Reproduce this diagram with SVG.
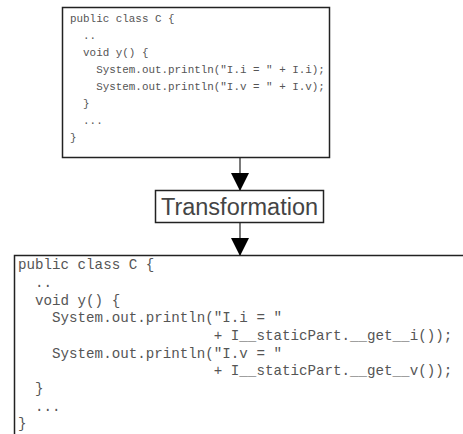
<svg xmlns="http://www.w3.org/2000/svg" width="463" height="434" viewBox="0 0 463 434">
<defs>
<style>
.box{fill:#fff;stroke:#222;stroke-width:1.5}
.code{font-family:"Liberation Mono","Courier New",monospace;font-size:10.9px;fill:#555;white-space:pre}
.code2{font-family:"Liberation Mono","Courier New",monospace;font-size:14.2px;fill:#555;white-space:pre}
.lbl{font-family:"Liberation Sans",Arial,sans-serif;font-size:23.5px;fill:#444}
.edge{stroke:#333;stroke-width:1.3;fill:none}
</style>
<marker id="ah" markerWidth="18" markerHeight="20" refX="17" refY="9" orient="auto" markerUnits="userSpaceOnUse" viewBox="0 0 18 18">
<path d="M0,0 L18,9 L0,18 Z" fill="#000"/>
</marker>
</defs>
<rect width="463" height="434" fill="#fff"/>
<g id="connectors">
<line class="edge" x1="240" y1="158" x2="240" y2="190" marker-end="url(#ah)"/>
<line class="edge" x1="240" y1="223" x2="240" y2="255" marker-end="url(#ah)"/>
</g>
<g id="original">
<rect class="box" x="62.5" y="7.5" width="267" height="150"/>
<text class="code" x="70" y="22">public class C {</text>
<text class="code" x="70" y="39" xml:space="preserve">  ..</text>
<text class="code" x="70" y="56" xml:space="preserve">  void y() {</text>
<text class="code" x="70" y="73" xml:space="preserve">    System.out.println("I.i = " + I.i);</text>
<text class="code" x="70" y="90" xml:space="preserve">    System.out.println("I.v = " + I.v);</text>
<text class="code" x="70" y="107" xml:space="preserve">  }</text>
<text class="code" x="70" y="124" xml:space="preserve">  ...</text>
<text class="code" x="70" y="141">}</text>
</g>
<g id="transformation">
<rect class="box" x="155.5" y="190.5" width="168" height="32"/>
<text class="lbl" x="239.5" y="215" text-anchor="middle">Transformation</text>
</g>
<g id="transformed">
<rect class="box" x="14.5" y="255.5" width="460" height="190"/>
<text class="code2" x="18" y="269">public class C {</text>
<text class="code2" x="18" y="287" xml:space="preserve">  ..</text>
<text class="code2" x="18" y="305" xml:space="preserve">  void y() {</text>
<text class="code2" x="18" y="322" xml:space="preserve">    System.out.println("I.i = "</text>
<text class="code2" x="18" y="340" xml:space="preserve">                       + I__staticPart.__get__i());</text>
<text class="code2" x="18" y="358" xml:space="preserve">    System.out.println("I.v = "</text>
<text class="code2" x="18" y="375" xml:space="preserve">                       + I__staticPart.__get__v());</text>
<text class="code2" x="18" y="393" xml:space="preserve">  }</text>
<text class="code2" x="18" y="411" xml:space="preserve">  ...</text>
<text class="code2" x="18" y="428">}</text>
</g>
</svg>
